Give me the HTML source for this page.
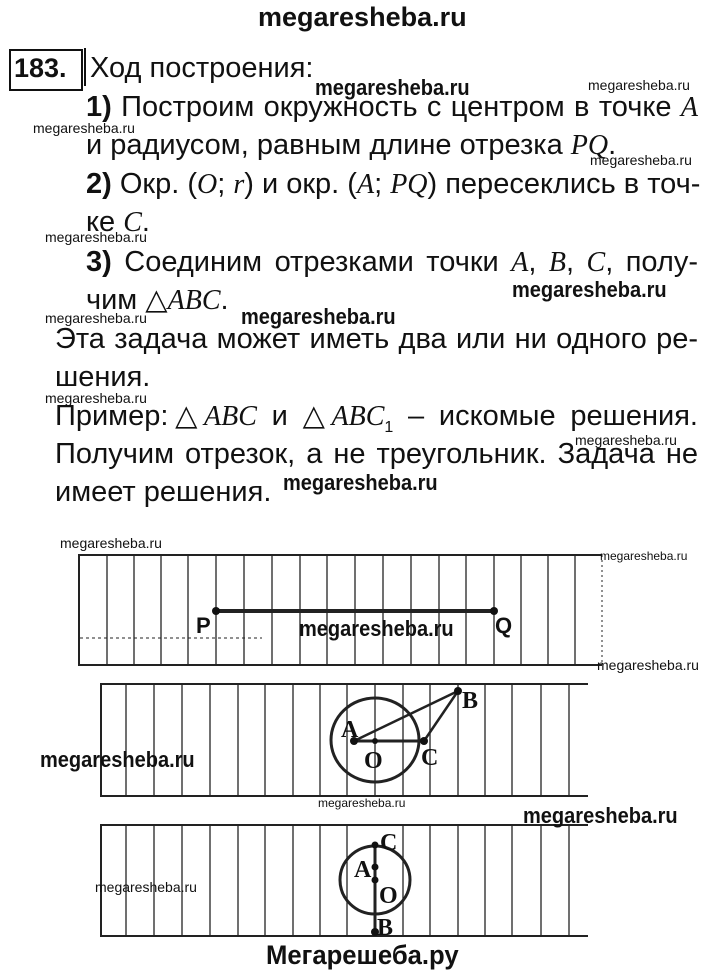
<!DOCTYPE html>
<html><head><meta charset="utf-8"><style>
body{margin:0;width:720px;height:973px;background:#fff;position:relative;overflow:hidden;font-family:"Liberation Sans",sans-serif;color:#111}
.l{position:absolute;white-space:nowrap;font-size:29px;line-height:32px}
.j{text-align:justify;text-align-last:justify}
i{font-family:"Liberation Serif",serif;font-size:28px}
.wb{position:absolute;font-family:"Liberation Sans",sans-serif;font-weight:bold;font-size:22px;white-space:nowrap;line-height:24px;transform:scaleX(0.91);transform-origin:left top}
.ws{position:absolute;font-family:"Liberation Sans",sans-serif;font-size:14px;white-space:nowrap;line-height:15px}
</style></head><body>
<div class="wb" style="left:258px;top:2px;font-size:27px;line-height:30px;transform:none">megaresheba.ru</div>
<div style="position:absolute;left:9px;top:49px;width:70px;height:38px;border:2px solid #111"></div>
<div class="l" style="left:14px;top:52px;font-weight:bold;font-size:27px">183.</div>
<div style="position:absolute;left:84px;top:48px;width:2px;height:38px;background:#111"></div>
<div class="l" style="left:90px;top:52px">Ход построения:</div>
<div class="wb" style="left:315px;top:76px">megaresheba.ru</div>
<div class="ws" style="left:588px;top:78px">megaresheba.ru</div>
<div class="l j" style="left:86px;top:91px;width:612px"><b>1)</b> Построим окружность с центром в точке <i>A</i></div>
<div class="ws" style="left:33px;top:121px">megaresheba.ru</div>
<div class="l" style="left:86px;top:129px">и радиусом, равным длине отрезка <i>PQ</i>.</div>
<div class="ws" style="left:590px;top:153px">megaresheba.ru</div>
<div class="l j" style="left:86px;top:168px;width:612px"><b>2)</b> Окр. (<i>O</i>; <i>r</i>) и окр. (<i>A</i>; <i>PQ</i>) пересеклись в точ-</div>
<div class="l" style="left:86px;top:206px">ке <i>C</i>.</div>
<div class="ws" style="left:45px;top:230px">megaresheba.ru</div>
<div class="l j" style="left:86px;top:246px;width:612px"><b>3)</b> Соединим отрезками точки <i>A</i>, <i>B</i>, <i>C</i>, полу-</div>
<div class="wb" style="left:512px;top:278px">megaresheba.ru</div>
<div class="l" style="left:86px;top:284px">чим △<i>ABC</i>.</div>
<div class="ws" style="left:45px;top:311px">megaresheba.ru</div>
<div class="wb" style="left:241px;top:305px">megaresheba.ru</div>
<div class="l j" style="left:55px;top:323px;width:643px">Эта задача может иметь два или ни одного ре-</div>
<div class="l" style="left:55px;top:361px">шения.</div>
<div class="ws" style="left:45px;top:391px">megaresheba.ru</div>
<div class="l j" style="left:55px;top:400px;width:643px">Пример:△<i>ABC</i> и △<i>ABC</i><sub style="font-size:16px">1</sub> – искомые решения.</div>
<div class="l j" style="left:55px;top:438px;width:643px">Получим отрезок, а не треугольник. Задача не</div>
<div class="ws" style="left:575px;top:433px">megaresheba.ru</div>
<div class="l" style="left:55px;top:476px">имеет решения.</div>
<div class="wb" style="left:283px;top:471px">megaresheba.ru</div>

<svg style="position:absolute;left:0;top:0" width="720" height="973">
<g stroke="#222" fill="none">
<!-- box1 -->
<line x1="78" y1="555" x2="602" y2="555" stroke-width="2"/>
<line x1="78" y1="665" x2="602" y2="665" stroke-width="2"/>
<line x1="79" y1="555" x2="79" y2="665" stroke-width="2"/>
<line x1="602" y1="555" x2="602" y2="665" stroke-width="1" stroke-dasharray="2 3"/>
<g stroke-width="1.3">
<line x1="107" y1="555" x2="107" y2="665"/><line x1="134" y1="555" x2="134" y2="665"/><line x1="161" y1="555" x2="161" y2="665"/><line x1="188" y1="555" x2="188" y2="665"/><line x1="216" y1="555" x2="216" y2="665"/><line x1="244" y1="555" x2="244" y2="665"/><line x1="272" y1="555" x2="272" y2="665"/><line x1="300" y1="555" x2="300" y2="665"/><line x1="327" y1="555" x2="327" y2="665"/><line x1="355" y1="555" x2="355" y2="665"/><line x1="383" y1="555" x2="383" y2="665"/><line x1="411" y1="555" x2="411" y2="665"/><line x1="439" y1="555" x2="439" y2="665"/><line x1="466" y1="555" x2="466" y2="665"/><line x1="494" y1="555" x2="494" y2="665"/><line x1="521" y1="555" x2="521" y2="665"/><line x1="548" y1="555" x2="548" y2="665"/><line x1="575" y1="555" x2="575" y2="665"/>
</g>
<line x1="80" y1="638" x2="262" y2="638" stroke-width="1" stroke-dasharray="3 3"/>
<line x1="216" y1="611" x2="494" y2="611" stroke-width="4"/>
<!-- box2 -->
<line x1="100" y1="684" x2="588" y2="684" stroke-width="2"/>
<line x1="100" y1="796" x2="588" y2="796" stroke-width="2"/>
<line x1="101" y1="684" x2="101" y2="796" stroke-width="2"/>
<g stroke-width="1.3">
<line x1="126" y1="684" x2="126" y2="796"/><line x1="154" y1="684" x2="154" y2="796"/><line x1="182" y1="684" x2="182" y2="796"/><line x1="210" y1="684" x2="210" y2="796"/><line x1="238" y1="684" x2="238" y2="796"/><line x1="265" y1="684" x2="265" y2="796"/><line x1="293" y1="684" x2="293" y2="796"/><line x1="320" y1="684" x2="320" y2="796"/><line x1="347" y1="684" x2="347" y2="796"/><line x1="375" y1="684" x2="375" y2="796"/><line x1="403" y1="684" x2="403" y2="796"/><line x1="430" y1="684" x2="430" y2="796"/><line x1="458" y1="684" x2="458" y2="796"/><line x1="485" y1="684" x2="485" y2="796"/><line x1="512" y1="684" x2="512" y2="796"/><line x1="541" y1="684" x2="541" y2="796"/><line x1="569" y1="684" x2="569" y2="796"/>
</g>
<ellipse cx="375" cy="740" rx="44" ry="42" stroke-width="3"/>
<line x1="354" y1="741" x2="424" y2="741" stroke-width="3"/>
<line x1="354" y1="741" x2="458" y2="691" stroke-width="2.5"/>
<line x1="424" y1="741" x2="458" y2="691" stroke-width="2.5"/>
<!-- box3 -->
<line x1="100" y1="825" x2="588" y2="825" stroke-width="2"/>
<line x1="100" y1="936" x2="588" y2="936" stroke-width="2"/>
<line x1="101" y1="825" x2="101" y2="936" stroke-width="2"/>
<g stroke-width="1.3">
<line x1="126" y1="825" x2="126" y2="936"/><line x1="154" y1="825" x2="154" y2="936"/><line x1="182" y1="825" x2="182" y2="936"/><line x1="210" y1="825" x2="210" y2="936"/><line x1="238" y1="825" x2="238" y2="936"/><line x1="265" y1="825" x2="265" y2="936"/><line x1="293" y1="825" x2="293" y2="936"/><line x1="320" y1="825" x2="320" y2="936"/><line x1="347" y1="825" x2="347" y2="936"/><line x1="403" y1="825" x2="403" y2="936"/><line x1="430" y1="825" x2="430" y2="936"/><line x1="458" y1="825" x2="458" y2="936"/><line x1="485" y1="825" x2="485" y2="936"/><line x1="512" y1="825" x2="512" y2="936"/><line x1="541" y1="825" x2="541" y2="936"/><line x1="569" y1="825" x2="569" y2="936"/>
</g>
<ellipse cx="375" cy="880" rx="35" ry="34" stroke-width="3"/>
<line x1="375" y1="845" x2="375" y2="936" stroke-width="3"/>
</g>
<g fill="#111">
<circle cx="216" cy="611" r="4"/><circle cx="494" cy="611" r="4"/>
<circle cx="354" cy="741" r="4"/><circle cx="375" cy="741" r="3"/><circle cx="424" cy="741" r="4"/><circle cx="458" cy="691" r="4"/>
<circle cx="375" cy="845" r="3.5"/><circle cx="375" cy="867" r="3.5"/><circle cx="375" cy="880" r="3.5"/><circle cx="375" cy="932" r="4"/>
</g>
<g font-family="Liberation Sans, sans-serif" font-weight="bold" font-size="22" fill="#111">
<text x="196" y="633">P</text><text x="495" y="633">Q</text>
</g>
<g font-family="Liberation Serif, serif" font-weight="bold" font-size="24" fill="#111">
<text x="462" y="708">B</text><text x="341" y="737">A</text><text x="364" y="768">O</text><text x="421" y="765">C</text>
<text x="380" y="850">C</text><text x="354" y="877">A</text><text x="379" y="903">O</text><text x="377" y="935">B</text>
</g>
</svg>
<div class="ws" style="left:60px;top:536px">megaresheba.ru</div>
<div class="ws" style="left:600px;top:549px;font-size:12px">megaresheba.ru</div>
<div class="wb" style="left:299px;top:617px">megaresheba.ru</div>
<div class="ws" style="left:597px;top:658px">megaresheba.ru</div>
<div class="wb" style="left:40px;top:748px">megaresheba.ru</div>
<div class="ws" style="left:318px;top:796px;font-size:12px">megaresheba.ru</div>
<div class="wb" style="left:523px;top:804px">megaresheba.ru</div>
<div class="ws" style="left:95px;top:880px">megaresheba.ru</div>
<div class="wb" style="left:266px;top:940px;font-size:27px;line-height:30px;transform:scaleX(0.95)">Мегарешеба.ру</div>
</body></html>
